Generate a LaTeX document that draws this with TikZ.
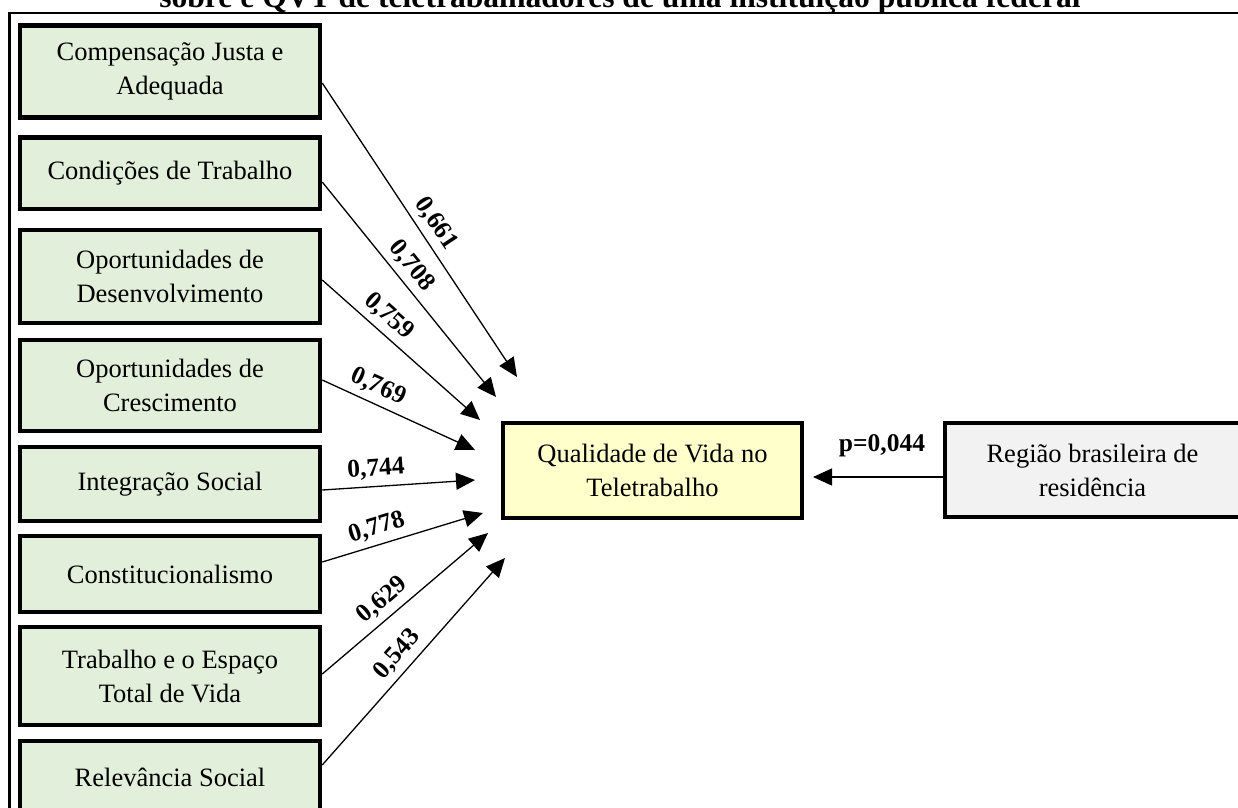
\documentclass[tikz,border=0pt]{standalone}
\usepackage{fontspec}
\setmainfont{Liberation Serif}
\usetikzlibrary{arrows.meta}
\definecolor{boxgreen}{HTML}{E2EFDA}
\definecolor{boxyellow}{HTML}{FFFFCC}
\definecolor{boxgray}{HTML}{F2F2F2}
\begin{document}
\begin{tikzpicture}[x=1pt,y=-1pt,
  lbox/.style={draw=black, line width=4.5pt, fill=boxgreen, minimum width=300pt,
    align=center, inner sep=2pt, font=\fontsize{26.5}{34}\selectfont},
  qbox/.style={draw=black, line width=4pt, fill=boxyellow, minimum width=299pt, minimum height=95pt,
    align=center, inner sep=2pt, font=\fontsize{26.5}{34}\selectfont},
  rbox/.style={draw=black, line width=4.5pt, fill=boxgray, minimum width=295pt, minimum height=94pt,
    align=center, inner sep=2pt, font=\fontsize{26.5}{34}\selectfont},
  arr/.style={line width=1.3pt, -{Triangle[length=19pt,width=17pt]}},
  lab/.style={sloped, above=4pt, inner sep=2pt, font=\bfseries\fontsize{25.5}{30}\selectfont},
  plab/.style={inner sep=2pt, font=\bfseries\fontsize{25.5}{30}\selectfont},
  frame/.style={line width=2.2pt}]
\useasboundingbox (0,0) rectangle (1238,807);
\clip (0,0) rectangle (1238,807);
\fill[white] (0,0) rectangle (1238,807);

% title (cut off at the top)
\node[anchor=base, inner sep=0pt, font=\bfseries\fontsize{31.6}{36}\selectfont] (title) at (620,7)
  {sobre e QVT de teletrabalhadores de uma instituição pública federal};

% frame
\coordinate (fa) at (8,13);
\coordinate (fb) at (1240,13);
\coordinate (fc) at (9.5,810);
\draw[frame] (fa) -- (fb);
\draw[frame] (fc |- fa) -- (fc);

% left boxes
\node[lbox, minimum height=92pt] (b1) at (170,71.5) {Compensação Justa e\\Adequada};
\node[lbox, minimum height=71.5pt] (b2) at (170,173.25) {Condições de Trabalho};
\node[lbox, minimum height=93pt] (b3) at (170,276.5) {Oportunidades de\\Desenvolvimento};
\node[lbox, minimum height=91pt] (b4) at (170,385.5) {Oportunidades de\\Crescimento};
\node[lbox, minimum height=74pt] (b5) at (170,484) {Integração Social};
\node[lbox, minimum height=76pt] (b6) at (170,574) {Constitucionalismo};
\node[lbox, minimum height=98pt] (b7) at (170,676) {Trabalho e o Espaço\\Total de Vida};
\node[lbox, minimum height=72pt] (b8) at (170,777) {Relevância Social};

% central and right boxes
\node[qbox] (qv) at (652.5,470.5) {Qualidade de Vida no\\Teletrabalho};
\node[rbox] (rg) at (1092.5,470) {Região brasileira de\\residência};

% arrow tips
\coordinate (t1) at (517,377);
\coordinate (t2) at (496,397);
\coordinate (t3) at (480,420);
\coordinate (t4) at (475,450);
\coordinate (t5) at (475,480);
\coordinate (t6) at (483,513);
\coordinate (t7) at (488,533);
\coordinate (t8) at (505,558);

\draw[arr] (b1.east |- 0,83)  -- node[lab, pos=0.51] {0,661} (t1);
\draw[arr] (b2.east |- 0,182) -- node[lab, pos=0.44] {0,708} (t2);
\draw[arr] (b3.east |- 0,280) -- node[lab, pos=0.35] {0,759} (t3);
\draw[arr] (b4.east |- 0,380) -- node[lab, pos=0.32] {0,769} (t4);
\draw[arr] (b5.east |- 0,490) -- node[lab, pos=0.36] {0,744} (t5);
\draw[arr] (b6.east |- 0,562) -- node[lab, pos=0.37] {0,778} (t6);
\draw[arr] (b7.east |- 0,674) -- node[lab, pos=0.43] {0,629} (t7);
\draw[arr] (b8.east |- 0,765) -- node[lab, pos=0.48] {0,543} (t8);

% right arrow
\coordinate (tq) at (813,477);
\draw[arr] (rg.west |- tq) -- (tq);
\node[plab] (pv) at (882,446) {p=0,044};
\end{tikzpicture}
\end{document}
